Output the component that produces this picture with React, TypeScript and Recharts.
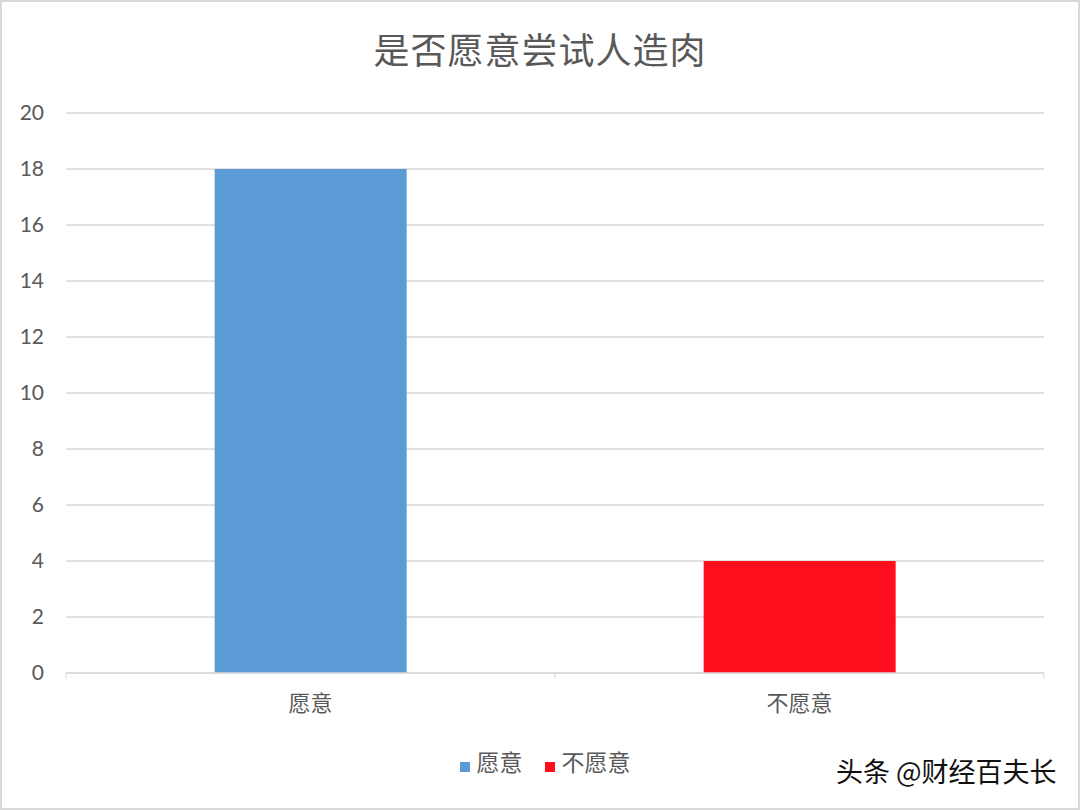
import React from 'react';
import {
  BarChart,
  Bar,
  XAxis,
  YAxis,
  CartesianGrid,
  Legend,
} from 'recharts';

const categories = ['愿意', '不愿意'];
const seriesNames = ['愿意', '不愿意'];
const seriesValues = [18, 4];
const yTicks = [0, 2, 4, 6, 8, 10, 12, 14, 16, 18, 20];

const COLORS = ['#5B9BD5', '#FF0F1E'];
const FONT = "Lato, 'Noto Sans CJK SC', sans-serif";

// one series per category so each bar gets its own colour and legend entry
const data = categories.map((name, i) => {
  const row: Record<string, string | number> = { name };
  row[seriesNames[i]] = seriesValues[i];
  return row;
});

const CategoryTick = (props: any) => {
  const { x, y, payload } = props;
  const half = 244.5;
  return (
    <g>
      <line x1={x - half} y1={y - 8} x2={x - half} y2={y - 2} stroke="#d9d9d9" />
      {payload.index === categories.length - 1 && (
        <line x1={x + half} y1={y - 8} x2={x + half} y2={y - 2} stroke="#d9d9d9" />
      )}
      <text x={x} y={y + 30} textAnchor="middle" fill="#595959" fontSize={22} fontFamily={FONT}>
        {payload.value}
      </text>
    </g>
  );
};

const App: React.FC = () => {
  return (
    <div
      style={{
        position: 'fixed',
        top: 0,
        left: 0,
        width: 1080,
        height: 810,
        background: '#fff',
        boxSizing: 'border-box',
        border: '2px solid #d9d9d9',
        fontFamily: FONT,
      }}
    >
      <div
        style={{
          position: 'absolute',
          top: 20,
          left: 0,
          width: '100%',
          textAlign: 'center',
          fontSize: 36,
          color: '#595959',
          letterSpacing: 1,
        }}
      >
        是否愿意尝试人造肉
      </div>
      <div style={{ position: 'absolute', top: -2, left: -2 }}>
        <BarChart
          width={1080}
          height={810}
          data={data}
          margin={{ top: 113, right: 36, bottom: 107, left: 16 }}
          barCategoryGap="30.4%"
        >
          <CartesianGrid vertical={false} stroke="#d9d9d9" strokeWidth={1.3} />
          <XAxis
            dataKey="name"
            axisLine={{ stroke: '#d9d9d9', strokeWidth: 1.3 }}
            tickLine={false}
            tick={<CategoryTick />}
          />
          <YAxis
            width={50}
            domain={[0, 20]}
            ticks={yTicks}
            axisLine={false}
            tickLine={false}
            tickMargin={16}
            tick={{ fill: '#595959', fontSize: 21, fontFamily: FONT }}
          />
          <Legend
            layout="horizontal"
            verticalAlign="middle"
            align="center"
            iconType="square"
            iconSize={10}
            itemSorter={(item: any) => seriesNames.indexOf(item.value)}
            wrapperStyle={{ top: 744, left: 16, width: 1080 }}
            formatter={(value) => (
              <span
                style={{ color: '#595959', fontSize: 23, fontFamily: FONT, marginLeft: 3, marginRight: 12 }}
              >
                {value}
              </span>
            )}
          />
          {seriesNames.map((s, i) => (
            <Bar key={s} dataKey={s} stackId="a" fill={COLORS[i]} isAnimationActive={false} />
          ))}
        </BarChart>
      </div>
      <div
        style={{
          position: 'absolute',
          top: 749,
          left: 834,
          fontSize: 27,
          color: '#111',
          fontFamily: "'Noto Sans CJK SC', sans-serif",
          textShadow: '1px 1px 0 #fff, -1px -1px 0 #fff, 1px -1px 0 #fff, -1px 1px 0 #fff',
        }}
      >
        头条 @财经百夫长
      </div>
    </div>
  );
};

export default App;
